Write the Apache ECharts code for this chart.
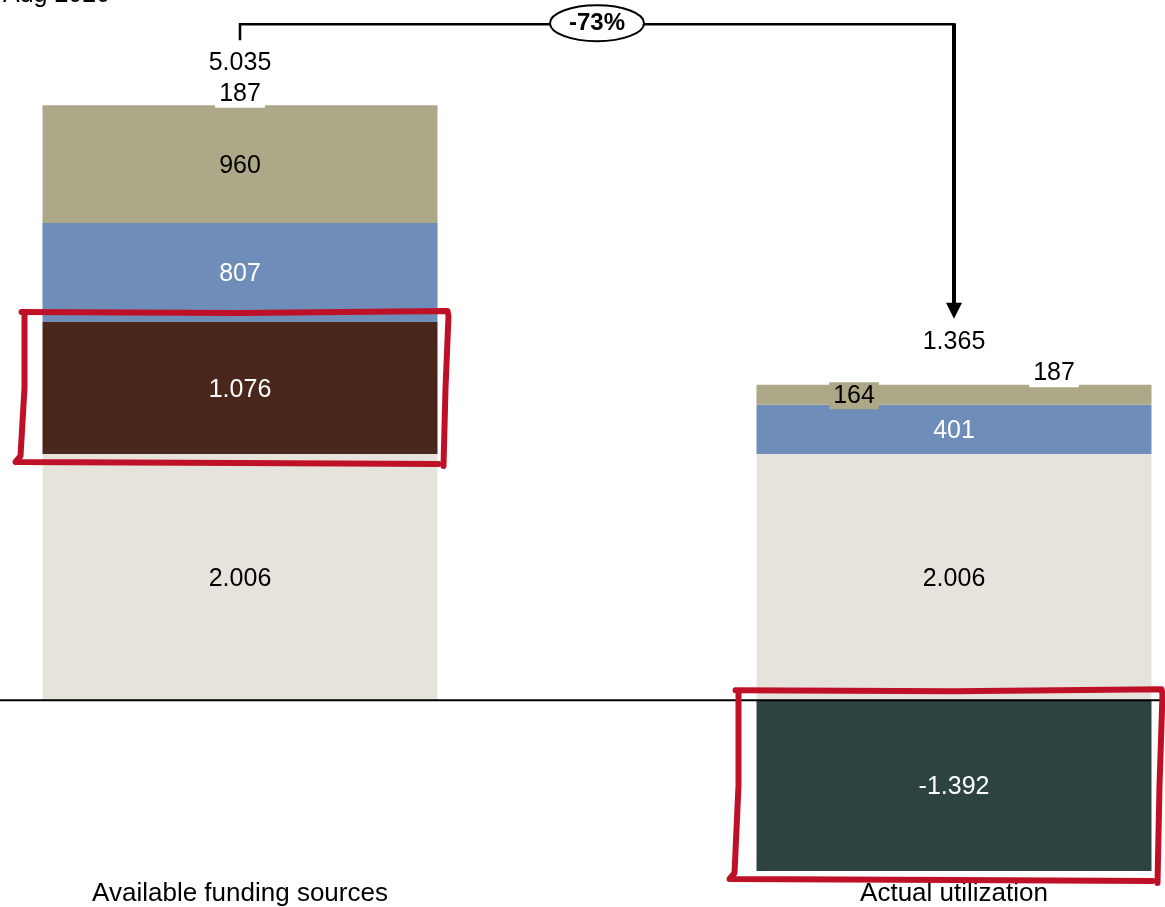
<!DOCTYPE html>
<html>
<head>
<meta charset="utf-8">
<script src="https://cdn.jsdelivr.net/npm/echarts@6/dist/echarts.min.js"></script>
<style>
  html, body { margin: 0; padding: 0; background: #fff; }
  #chart { width: 1165px; height: 907px; }
</style>
</head>
<body>
<div id="chart"></div>
<script>
// values (German number format)
const categories = ['Available funding sources', 'Actual utilization'];
const baseValues = [2006, 2006];
const brownValues = [1076, null];
const greenValues = [null, -1392];
const blueValues = [807, 401];
const khakiValues = [960, 164];
const otherValues = [187, 187];
const totals = [5035, 1365];
const changeLabel = '-73%';
const periodLabel = 'Aug 2020';

const FONT = "'Liberation Sans', Arial, sans-serif";
const BAR_W = 395;
const KHAKI = '#ADA888';
// the two bars sit on slots 0 and 2 of the axis, slot 1 is an empty spacer
const slots = [0, 2];
const axisData = ['', '', ''];
slots.forEach((s, i) => { axisData[s] = categories[i]; });

function fmt(v) {
  const s = Math.abs(v).toString().replace(/\B(?=(\d{3})+(?!\d))/g, '.');
  return (v < 0 ? '-' : '') + s;
}
function toData(arr, extra) {
  const out = axisData.map(() => '-');
  arr.forEach((v, i) => {
    if (v == null) return;
    const item = { value: v };
    if (extra && extra[i]) item.label = extra[i];
    out[slots[i]] = item;
  });
  return out;
}
const posSums = categories.map((c, i) =>
  [baseValues, brownValues, greenValues, blueValues, khakiValues, otherValues]
    .reduce((s, a) => s + (a[i] > 0 ? a[i] : 0), 0));

function barSeries(name, arr, color, textColor, extra) {
  return {
    name: name,
    type: 'bar',
    stack: 'total',
    barWidth: BAR_W,
    clip: false,
    data: toData(arr, extra),
    itemStyle: { color: color },
    label: {
      show: true,
      position: 'inside',
      offset: [0, 2],
      color: textColor,
      fontSize: 25,
      fontFamily: FONT,
      formatter: p => fmt(p.value)
    },
    emphasis: { disabled: true },
    animation: false
  };
}

const chart = echarts.init(document.getElementById('chart'), null, { renderer: 'canvas' });

const option = {
  backgroundColor: '#fff',
  animation: false,
  grid: { left: 61.5, right: 32.5, top: 13, bottom: 34.4 },
  xAxis: {
    type: 'category',
    data: axisData,
    axisLine: { show: false, onZero: false },
    axisTick: { show: false },
    axisLabel: { color: '#000', fontSize: 26, fontFamily: FONT, margin: 9, interval: 0 }
  },
  yAxis: {
    type: 'value',
    min: -1400,
    max: 5600,
    show: false,
    splitLine: { show: false }
  },
  series: [
    barSeries('base', baseValues, '#E6E3DC', '#000'),
    barSeries('brown', brownValues, '#4A271C', '#fff'),
    barSeries('green', greenValues, '#2D4341', '#fff'),
    barSeries('blue', blueValues, '#6E8DB9', '#fff'),
    barSeries('khaki', khakiValues, KHAKI, '#000', [null,
      { offset: [-100, 1], backgroundColor: KHAKI, padding: [2, 4, 0, 4] }]),
    barSeries('other', otherValues, 'rgba(255,255,255,0)', '#000', [
      { offset: [0, 0], backgroundColor: '#fff', padding: [2, 4, 1, 4] },
      { offset: [100, 0], backgroundColor: '#fff', padding: [2, 4, 1, 4] }]),
    {
      name: 'totals',
      type: 'scatter',
      data: posSums.map((v, i) => [slots[i], v]),
      symbolSize: 0,
      itemStyle: { color: '#000', opacity: 1 },
      label: {
        show: true,
        position: 'top',
        distance: 7,
        color: '#000',
        fontSize: 25,
        fontFamily: FONT,
        formatter: p => fmt(totals[p.dataIndex])
      },
      emphasis: { disabled: true },
      silent: true
    }
  ]
};
chart.setOption(option);

// annotations placed from the chart's own scales
const px = (i, v) => chart.convertToPixel({ gridIndex: 0 }, [slots[i], v]);
const xL = px(0, 0)[0], xR = px(1, 0)[0];
const zeroY = px(0, 0)[1];
const hw = BAR_W / 2;
const topL = px(0, posSums[0])[1];
const topR = px(1, posSums[1])[1];
const lineY = topL - 58;
const midX = (xL + xR) / 2;
const RED = '#BE1128';

function handBox(x0, y0, x1, y1) {
  const style = { stroke: RED, lineWidth: 6, fill: null, lineCap: 'round', lineJoin: 'round' };
  return [
    { type: 'polyline', z: 50, shape: { points: [[x0 - 21, y0 - 10], [(x0 + x1) / 2, y0 - 9], [x1 + 10, y0 - 11], [x1 + 11, y0 - 6], [x1 + 8, (y0 + y1) / 2], [x1 + 6, y1 + 12]] }, style: style },
    { type: 'polyline', z: 50, shape: { points: [[x1 + 1, y1 + 10], [(x0 + x1) / 2, y1 + 9], [x0 - 27, y1 + 8], [x0 - 22, y1 + 2], [x0 - 18, (y0 + y1) / 2], [x0 - 18, y0 - 8]] }, style: style }
  ];
}

const bTop = px(0, baseValues[0] + brownValues[0])[1];
const bBot = px(0, baseValues[0])[1];
const gTop = px(1, 0)[1];
const gBot = px(1, greenValues[1])[1];

const graphics = [
  { type: 'line', z: 40, shape: { x1: 0, y1: zeroY, x2: 1165, y2: zeroY }, style: { stroke: '#000', lineWidth: 2 } },
  { type: 'text', left: 3, top: -17, z: 60, style: { text: periodLabel, font: '25px ' + FONT, fill: '#000' } },
  { type: 'polyline', z: 60, shape: { points: [[xL, topL - 42], [xL, lineY], [xR, lineY]] }, style: { stroke: '#000', lineWidth: 2.5, fill: null } },
  { type: 'line', z: 60, shape: { x1: xR, y1: lineY - 1, x2: xR, y2: topR - 58 }, style: { stroke: '#000', lineWidth: 4 } },
  { type: 'polygon', z: 60, shape: { points: [[xR - 8, topR - 59], [xR + 8, topR - 59], [xR, topR - 43]] }, style: { fill: '#000' } },
  { type: 'ellipse', z: 61, shape: { cx: midX, cy: lineY - 1, rx: 47, ry: 18 }, style: { fill: '#fff', stroke: '#000', lineWidth: 2 } },
  { type: 'text', z: 62, x: midX, y: lineY - 1, style: { text: changeLabel, font: 'bold 24px ' + FONT, fill: '#000', align: 'center', verticalAlign: 'middle' } }
].concat(handBox(xL - hw, bTop, xL + hw, bBot), handBox(xR - hw, gTop, xR + hw, gBot));

chart.setOption({ graphic: graphics });
</script>
</body>
</html>
